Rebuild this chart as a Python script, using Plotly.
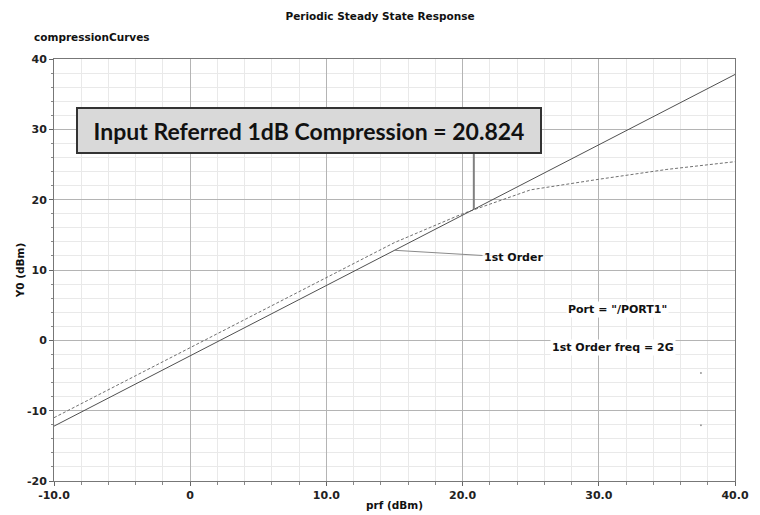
import numpy as np
import plotly.graph_objects as go

# ---- data ----
prf_fund = [-10, -5, 0, 5, 10, 15, 20, 25, 30, 35, 40]
y_fund = [-11.0, -6.0, -1.1, 3.9, 8.9, 13.9, 18.0, 21.4, 22.9, 24.3, 25.4]

prf_lin = [-10, 40]
y_lin_minus1 = [-12.2, 37.8]

comp_x = 20.824
label_x = 15.0
stray_x = [37.5, 37.5]
stray_y = [-4.66, -12.06]

x_tickvals = [-10, 0, 10, 20, 30, 40]
x_ticktext = ["-10.0", "0", "10.0", "20.0", "30.0", "40.0"]
y_tickvals = [-20, -10, 0, 10, 20, 30, 40]
y_ticktext = ["-20", "-10", "0", "10", "20", "30", "40"]

comp_y = float(np.interp(comp_x, prf_lin, y_lin_minus1))
label_y = float(np.interp(label_x, prf_lin, y_lin_minus1))

fig = go.Figure()
fig.add_trace(go.Scatter(x=prf_fund, y=y_fund, mode="lines",
                         line=dict(color="#707070", width=1, dash="3px,2px"),
                         hoverinfo="skip"))
fig.add_trace(go.Scatter(x=prf_lin, y=y_lin_minus1, mode="lines",
                         line=dict(color="#505050", width=1),
                         hoverinfo="skip"))
fig.add_trace(go.Scatter(x=stray_x, y=stray_y, mode="markers",
                         marker=dict(color="#999999", size=2),
                         hoverinfo="skip"))

tickfont = dict(family="DejaVu Sans", size=11, color="#222222", weight="bold")
boldfont = dict(family="DejaVu Sans", size=10.5, color="#111111", weight="bold")
labelfont = dict(family="DejaVu Sans", size=11, color="#111111", weight="bold")

fig.update_xaxes(range=[-10, 40], tickvals=x_tickvals, ticktext=x_ticktext,
                 showgrid=True, gridcolor="#b4b4b4", gridwidth=1,
                 showline=True, linecolor="#777777", linewidth=1, mirror=True,
                 ticks="outside", ticklen=4, tickcolor="#666666",
                 tickfont=tickfont, zeroline=False, automargin=False,
                 minor=dict(dtick=2, showgrid=True, gridcolor="#e9e9e9",
                            ticks="outside", ticklen=3, tickcolor="#888888"),
                 title=dict(text="prf (dBm)", font=boldfont, standoff=0))
fig.update_yaxes(range=[-20, 40], tickvals=y_tickvals, ticktext=y_ticktext,
                 showgrid=True, gridcolor="#b4b4b4", gridwidth=1,
                 showline=True, linecolor="#777777", linewidth=1, mirror=True,
                 ticks="outside", ticklen=4, tickcolor="#666666",
                 tickfont=tickfont, zeroline=False, automargin=False,
                 minor=dict(dtick=2, showgrid=True, gridcolor="#e9e9e9",
                            ticks="outside", ticklen=2, tickcolor="#888888"),
                 title=dict(text="Y0 (dBm)", font=boldfont, standoff=0))

# vertical marker line from box to compression point
fig.add_shape(type="line", xref="x", yref="y", x0=comp_x, x1=comp_x,
              y0=comp_y, y1=26.6, line=dict(color="#808080", width=2))

# big result box
fig.add_annotation(xref="x", yref="y", x=8.75, y=29.8,
                   text="Input Referred 1dB Compression = %.3f" % comp_x,
                   showarrow=False, bgcolor="#d9d9d9", bordercolor="#333333",
                   borderwidth=2, borderpad=2, width=458, height=39,
                   font=dict(family="Lato", size=23, color="#111111", weight="bold"))

# 1st Order label with leader
fig.add_annotation(xref="x", yref="y", x=label_x, y=label_y,
                   text="1st Order", showarrow=True, arrowhead=0,
                   arrowcolor="#8a8a8a", arrowwidth=1, ax=119, ay=7,
                   font=labelfont)

fig.add_annotation(xref="paper", yref="paper", x=(617 - 54) / 681, y=(481 - 309) / 422,
                   xanchor="center", yanchor="middle",
                   text='Port = "/PORT1"', showarrow=False, bgcolor="white",
                   font=labelfont)
fig.add_annotation(xref="paper", yref="paper", x=(612.5 - 54) / 681, y=(481 - 347) / 422,
                   xanchor="center", yanchor="middle",
                   text="1st Order freq = 2G", showarrow=False, bgcolor="white",
                   font=labelfont)

fig.add_annotation(xref="paper", yref="paper", x=(32 - 54) / 681, y=(481 - 37) / 422,
                   xanchor="left", yanchor="middle", text="compressionCurves",
                   showarrow=False, font=boldfont)

fig.update_layout(
    width=760, height=515,
    margin=dict(l=54, r=25, t=59, b=34),
    paper_bgcolor="white", plot_bgcolor="white",
    showlegend=False, hovermode=False,
    title=dict(text="Periodic Steady State Response", x=0.5, xanchor="center",
               y=1 - 16 / 515, yanchor="middle", font=boldfont),
)

fig.write_html("out.html", config={"displayModeBar": False},
               post_script="document.body.style.margin='0';document.body.style.overflow='hidden';")
